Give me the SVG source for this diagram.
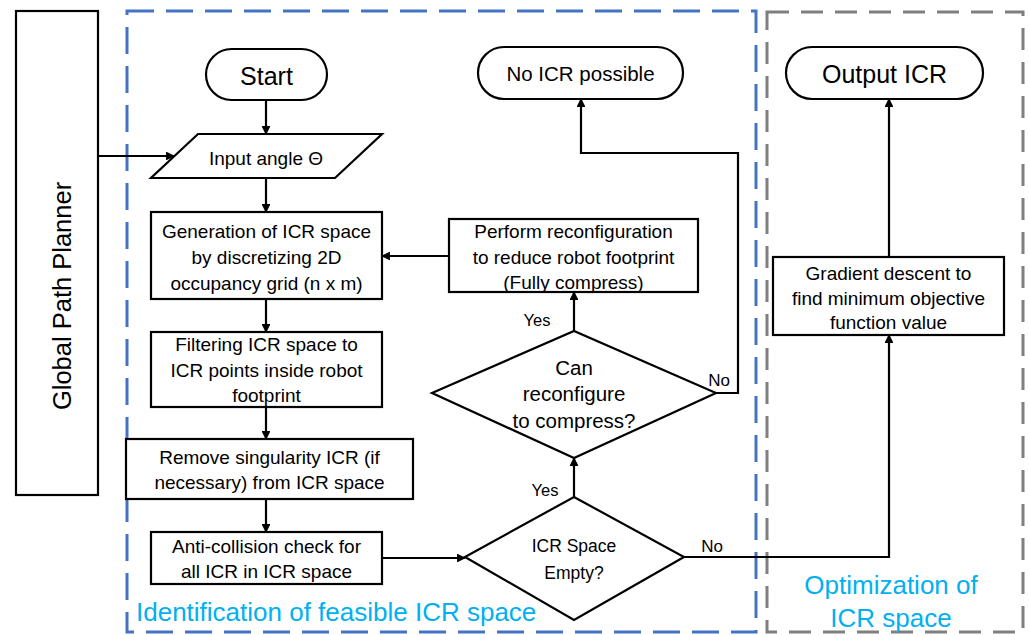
<svg xmlns="http://www.w3.org/2000/svg" width="1029" height="635" viewBox="0 0 1029 635">
<defs>
<style>
.shape{fill:#fff;stroke:#000;stroke-width:2.2}
.t{font-family:"Liberation Sans",Arial,sans-serif;fill:#000;text-anchor:middle}
.b{font-size:19px}
.cap{font-family:"Liberation Sans",Arial,sans-serif;fill:#00B0F0;font-size:26px}
.conn path{fill:none;stroke:#000;stroke-width:2.2;marker-end:url(#ah)}
</style>
<marker id="ah" viewBox="0 0 10 10" refX="9" refY="5" markerWidth="4" markerHeight="4" orient="auto" markerUnits="strokeWidth">
<path d="M0 0 L10 5 L0 10 z" fill="#000"/>
</marker>
</defs>
<rect width="1029" height="635" fill="#fff"/>

<g id="region-identification">
<rect x="127" y="11" width="629" height="621" fill="none" stroke="#4472C4" stroke-width="3" stroke-dasharray="27 12"/>
<text class="cap" x="136" y="621">Identification of feasible ICR space</text>
</g>
<g id="region-optimization">
<rect x="767" y="12" width="256" height="620" fill="none" stroke="#7F7F7F" stroke-width="3" stroke-dasharray="22 12"/>
<text class="cap" x="891" y="594" text-anchor="middle" font-size="27">Optimization of</text>
<text class="cap" x="891" y="627" text-anchor="middle" font-size="27">ICR space</text>
</g>

<g id="global-path-planner">
<rect class="shape" x="16" y="11" width="82" height="484"/>
<text class="t" x="0" y="0" font-size="25.5" transform="translate(71 296) rotate(-90)">Global Path Planner</text>
</g>

<g id="start">
<rect class="shape" x="206" y="49" width="121" height="51" rx="25.5"/>
<text class="t" x="266.5" y="85" font-size="25">Start</text>
</g>

<g id="input-angle">
<polygon class="shape" points="198,134 382,134 335,178 151,178"/>
<text class="t b" x="266" y="164.5">Input angle Θ</text>
</g>

<g id="generation">
<rect class="shape" x="151" y="212" width="231" height="87"/>
<text class="t b" x="266.5" y="237.5">Generation of ICR space</text>
<text class="t b" x="266.5" y="263.5">by discretizing 2D</text>
<text class="t b" x="266.5" y="289.5">occupancy grid (n x m)</text>
</g>

<g id="filtering">
<rect class="shape" x="151" y="332" width="231" height="75"/>
<text class="t b" x="266.5" y="350.5">Filtering ICR space to</text>
<text class="t b" x="266.5" y="377">ICR points inside robot</text>
<text class="t b" x="266.5" y="401.5">footprint</text>
</g>

<g id="remove-singularity">
<rect class="shape" x="126" y="439" width="287" height="60"/>
<text class="t b" x="269.5" y="463.5">Remove singularity ICR (if</text>
<text class="t b" x="269.5" y="488.5">necessary) from ICR space</text>
</g>

<g id="anti-collision">
<rect class="shape" x="151" y="532" width="231" height="52"/>
<text class="t b" x="266.5" y="552.5">Anti-collision check for</text>
<text class="t b" x="266.5" y="577.5">all ICR in ICR space</text>
</g>

<g id="icr-space-empty">
<polygon class="shape" points="465,557 574,497 684,557 574,620"/>
<text class="t" x="574" y="552" font-size="17.5">ICR Space</text>
<text class="t" x="574" y="579" font-size="17.5">Empty?</text>
</g>

<g id="can-reconfigure">
<polygon class="shape" points="432,393 574,331 716,393 574,458"/>
<text class="t" x="574" y="375" font-size="20.5">Can</text>
<text class="t" x="574" y="401" font-size="20.5">reconfigure</text>
<text class="t" x="574" y="428" font-size="20.5">to compress?</text>
</g>

<g id="perform-reconfiguration">
<rect class="shape" x="449" y="219" width="249" height="73"/>
<text class="t b" x="573.5" y="237.5">Perform reconfiguration</text>
<text class="t b" x="573.5" y="263.5">to reduce robot footprint</text>
<text class="t b" x="573.5" y="288.5">(Fully compress)</text>
</g>

<g id="no-icr-possible">
<rect class="shape" x="478" y="47" width="205" height="52" rx="26"/>
<text class="t" x="580.5" y="80.5" font-size="20.5">No ICR possible</text>
</g>

<g id="output-icr">
<rect class="shape" x="786" y="47" width="197" height="52" rx="26"/>
<text class="t" x="884.5" y="83" font-size="25">Output ICR</text>
</g>

<g id="gradient-descent">
<rect class="shape" x="773" y="257" width="231" height="78"/>
<text class="t b" x="888.5" y="279.5">Gradient descent to</text>
<text class="t b" x="888.5" y="304.5">find minimum objective</text>
<text class="t b" x="888.5" y="328.5">function value</text>
</g>

<g id="connectors" class="conn">
<path d="M98 156 H174"/>
<path d="M266 100 V134"/>
<path d="M266 178 V212"/>
<path d="M266 299 V332"/>
<path d="M266 407 V439"/>
<path d="M266 499 V532"/>
<path d="M382 558 H465"/>
<path d="M574 497 V458"/>
<path d="M574 331 V292"/>
<path d="M449 256 H382"/>
<path d="M716 393 H738 V153 H581 V99"/>
<path d="M684 557 H889 V335"/>
<path d="M889 257 V99"/>
</g>

<g id="labels">
<text class="t" x="537" y="326" font-size="16.5">Yes</text>
<text class="t" x="545" y="496" font-size="16.5">Yes</text>
<text class="t" x="719" y="386" font-size="17">No</text>
<text class="t" x="712" y="552" font-size="17">No</text>
</g>
</svg>
